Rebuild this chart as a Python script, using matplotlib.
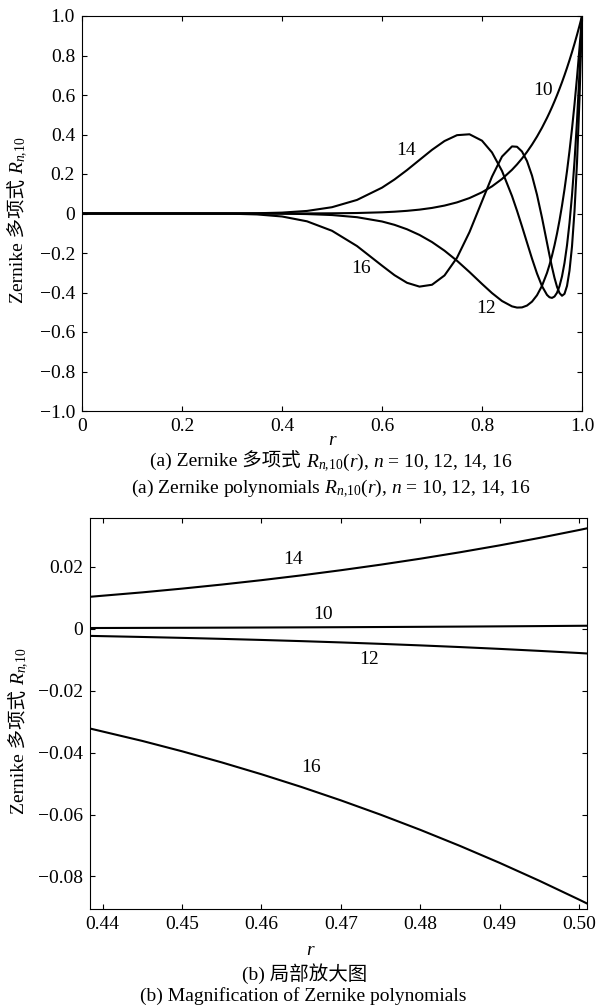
import matplotlib
matplotlib.use('Agg')
import matplotlib.pyplot as plt

plt.rcParams['font.family'] = ['Liberation Serif', 'Noto Sans CJK SC']
plt.rcParams['mathtext.fontset'] = 'custom'
plt.rcParams['mathtext.rm'] = 'Liberation Serif'
plt.rcParams['mathtext.it'] = 'Liberation Serif:italic'
plt.rcParams['mathtext.bf'] = 'Liberation Serif:bold'

# (a) full range
r_top = [0.0, 0.2, 0.3, 0.35, 0.4, 0.45, 0.5, 0.55, 0.6, 0.625, 0.65, 0.675, 0.7, 0.725,
         0.75, 0.775, 0.8, 0.82, 0.84, 0.86, 0.87, 0.88, 0.89, 0.9, 0.91, 0.92, 0.93, 0.935,
         0.94, 0.945, 0.95, 0.955, 0.96, 0.965, 0.97, 0.975, 0.98, 0.985, 0.99, 0.995, 1.0]
r10_top = [0, 0, 0.0000, 0.0000, 0.0001, 0.0003, 0.0010, 0.0025, 0.0060, 0.0091, 0.0135, 0.0196,
           0.0282, 0.0401, 0.0563, 0.0782, 0.1074, 0.1374, 0.1749, 0.2213, 0.2484, 0.2785, 0.3118,
           0.3487, 0.3894, 0.4344, 0.4840, 0.5106, 0.5386, 0.5680, 0.5987, 0.6310, 0.6648, 0.7003,
           0.7374, 0.7763, 0.8171, 0.8597, 0.9044, 0.9511, 1.0]
r12_top = [0, 0, -0.0001, -0.0003, -0.0010, -0.0029, -0.0078, -0.0187, -0.0404, -0.0574, -0.0798,
           -0.1086, -0.1446, -0.1883, -0.2393, -0.2964, -0.3565, -0.4029, -0.4430, -0.4702, -0.4763,
           -0.4755, -0.4661, -0.4463, -0.4139, -0.3663, -0.3007, -0.2601, -0.2137, -0.1611, -0.1018,
           -0.0351, 0.0394, 0.1223, 0.2144, 0.3164, 0.4288, 0.5525, 0.6884, 0.8373, 1.0]
r14_top = [0, 0, 0.0003, 0.0013, 0.0045, 0.0130, 0.0319, 0.0687, 0.1308, 0.1723, 0.2199, 0.2712,
           0.3223, 0.3669, 0.3966, 0.4011, 0.3687, 0.3091, 0.2156, 0.0886, 0.0142, -0.0652, -0.1472,
           -0.2284, -0.3039, -0.3678, -0.4122, -0.4241, -0.4274, -0.4203, -0.4014, -0.3679, -0.3185,
           -0.2505, -0.1613, -0.0481, 0.0924, 0.2635, 0.4690, 0.7130, 1.0]
r16_top = [0, 0, -0.0012, -0.0047, -0.0151, -0.0396, -0.0875, -0.1648, -0.2640, -0.3123, -0.3508,
           -0.3702, -0.3608, -0.3137, -0.2239, -0.0941, 0.0619, 0.1867, 0.2882, 0.3397, 0.3379,
           0.3138, 0.2654, 0.1919, 0.0949, -0.0212, -0.1480, -0.2115, -0.2715, -0.3259, -0.3710,
           -0.4027, -0.4165, -0.4067, -0.3669, -0.2897, -0.1667, 0.0120, 0.2573, 0.5819, 1.0]

# (b) magnified part
r_bot = [0.4384, 0.445, 0.45, 0.455, 0.46, 0.465, 0.47, 0.475, 0.48, 0.485, 0.49, 0.495, 0.5, 0.501]
r10_bot = [0.000263, 0.000305, 0.000341, 0.000380, 0.000424, 0.000473, 0.000526, 0.000585,
           0.000649, 0.000720, 0.000798, 0.000883, 0.000977, 0.000996]
r12_bot = [-0.00228, -0.00263, -0.00292, -0.00324, -0.00359, -0.00397, -0.00439, -0.00485,
           -0.00535, -0.00589, -0.00648, -0.00712, -0.00781, -0.00796]
r14_bot = [0.01035, 0.01178, 0.01299, 0.01430, 0.01572, 0.01726, 0.01893, 0.02072,
           0.02265, 0.02473, 0.02696, 0.02936, 0.03192, 0.03246]
r16_bot = [-0.03220, -0.03622, -0.03956, -0.04315, -0.04698, -0.05106, -0.05541, -0.06003,
           -0.06493, -0.07012, -0.07560, -0.08138, -0.08746, -0.08872]

names = ['10', '12', '14', '16']

xt_top = [0, 0.2, 0.4, 0.6, 0.8, 1.0]
xt_top_lab = ['0', '0.2', '0.4', '0.6', '0.8', '1.0']
yt_top = [-1.0, -0.8, -0.6, -0.4, -0.2, 0, 0.2, 0.4, 0.6, 0.8, 1.0]
yt_top_lab = ['\u22121.0', '\u22120.8', '\u22120.6', '\u22120.4', '\u22120.2', '0',
              '0.2', '0.4', '0.6', '0.8', '1.0']
xt_bot = [0.44, 0.45, 0.46, 0.47, 0.48, 0.49, 0.50]
xt_bot_lab = ['0.44', '0.45', '0.46', '0.47', '0.48', '0.49', '0.50']
yt_bot = [-0.08, -0.06, -0.04, -0.02, 0, 0.02]
yt_bot_lab = ['\u22120.08', '\u22120.06', '\u22120.04', '\u22120.02', '0', '0.02']

FS = 14
W, H = 601, 1008
fig = plt.figure(figsize=(W / 100, H / 100), dpi=100)
ax1 = fig.add_axes([82 / W, 1 - 411 / H, 500 / W, 395 / H])
ax2 = fig.add_axes([90 / W, 1 - 909 / H, 497 / W, 391 / H])


def style(ax):
    ax.tick_params(direction='in', top=True, right=True, length=3.5, width=0.8,
                   labelsize=FS, pad=5)
    for s in ax.spines.values():
        s.set_linewidth(0.8)


for ys in [r10_top, r12_top, r14_top, r16_top]:
    ax1.plot(r_top, ys, color='black', lw=1.5)
ax1.set_xlim(0, 1)
ax1.set_ylim(-1, 1)
ax1.set_xticks(xt_top, xt_top_lab)
ax1.set_yticks(yt_top, yt_top_lab)
style(ax1)
top_lab_pos = [(0.922, 0.625), (0.808, -0.481), (0.649, 0.3215), (0.558, -0.281)]
for n, (x, y) in zip(names, top_lab_pos):
    ax1.text(x, y, n, fontsize=14, ha='center', va='center')

for ys in [r10_bot, r12_bot, r14_bot, r16_bot]:
    ax2.plot(r_bot, ys, color='black', lw=1.5)
ax2.set_xlim(0.4384, 0.501)
ax2.set_ylim(-0.0905, 0.0358)
ax2.set_xticks(xt_bot, xt_bot_lab)
ax2.set_yticks(yt_bot, yt_bot_lab)
style(ax2)
bot_lab_pos = [(0.4678, 0.0045), (0.4735, -0.0100), (0.4640, 0.0223), (0.4663, -0.0448)]
for n, (x, y) in zip(names, bot_lab_pos):
    ax2.text(x, y, n, fontsize=14, ha='center', va='center')


def row(xc, yc, parts, rot=0, gap=0):
    # lay text pieces end to end, centred on xc (or yc when rotated)
    rend = fig.canvas.get_renderer()
    ts = [fig.text(0, 0, p, fontsize=FS, rotation=rot, rotation_mode='anchor',
                   ha='left', va='baseline') for p in parts]
    lens = []
    for t in ts:
        e = t.get_window_extent(rend)
        lens.append(e.width if rot == 0 else e.height)
    pos = -(sum(lens) + gap * (len(ts) - 1)) / 2
    for t, n in zip(ts, lens):
        if rot == 0:
            t.set_position(((xc + pos) / W, 1 - yc / H))
        else:
            t.set_position((xc / W, (H - yc + pos) / H))
        pos += n + gap


row(23, 220, ['Zernike 多项式', r'$R_{n,\!10}$'], rot=90, gap=5)
row(24, 731, ['Zernike 多项式', r'$R_{n,\!10}$'], rot=90, gap=5)

fig.text(332 / W, 1 - 445 / H, 'r', fontsize=FS, style='italic', ha='center', va='baseline')
fig.text(310 / W, 1 - 955 / H, 'r', fontsize=FS, style='italic', ha='center', va='baseline')

row(331, 467, ['(a) Zernike 多项式', r'$R_{n,\!10}(r)$, $n$ = 10, 12, 14, 16'], gap=5)
row(331, 493, [r'(a) Zernike polynomials $R_{n,\!10}(r)$, $n$ = 10, 12, 14, 16'])
row(305, 980, ['(b) 局部放大图'])
row(303, 1001, ['(b) Magnification of Zernike polynomials'])

fig.savefig('out.png', dpi=100)
